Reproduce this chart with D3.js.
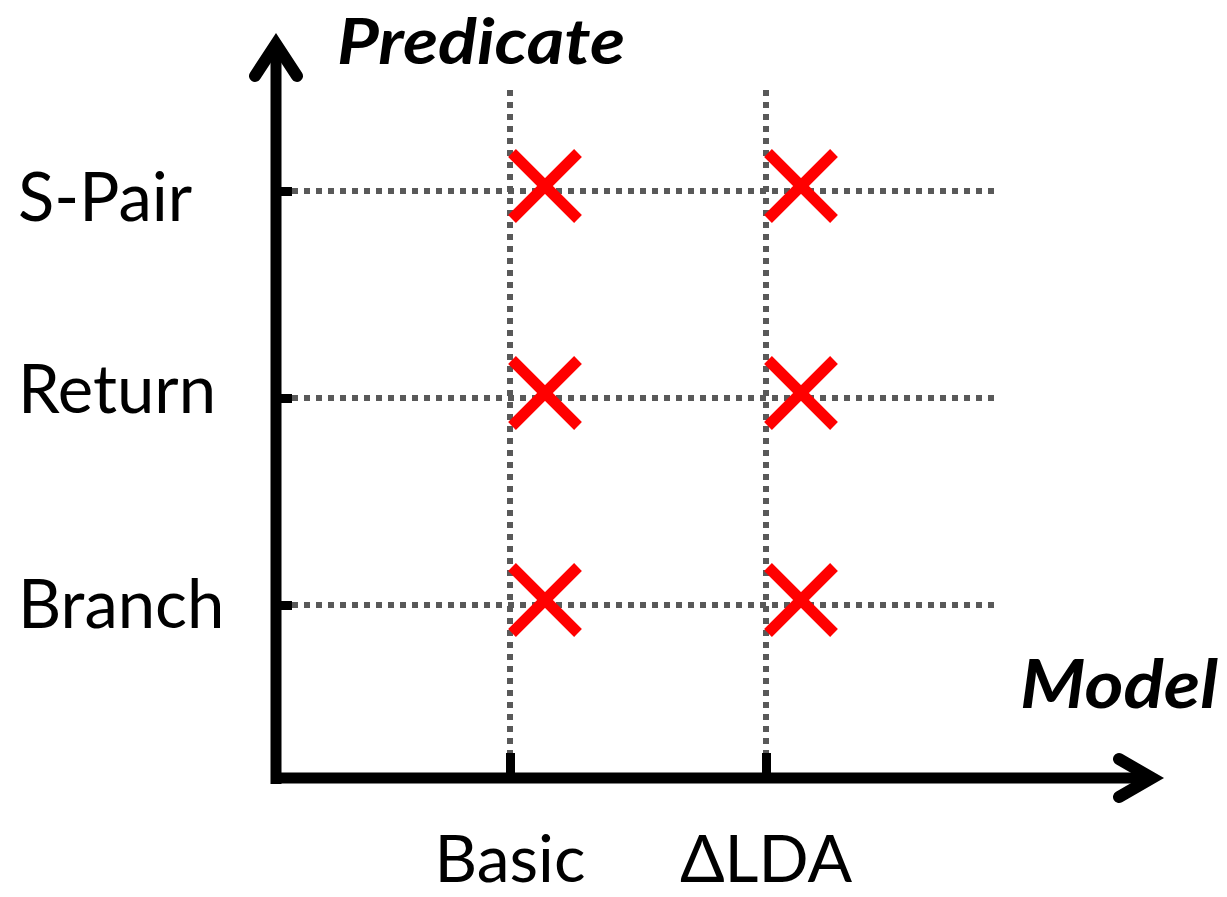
<!DOCTYPE html>
<html>
<head>
<meta charset="utf-8">
<script src="https://cdn.jsdelivr.net/npm/d3@7"></script>
<style>
  html, body { margin: 0; padding: 0; background: #fff; }
  svg { display: block; }
  text { font-family: Lato, "Open Sans", sans-serif; fill: #000; }
</style>
</head>
<body>
<svg id="chart" width="1227" height="897"></svg>
<script>
// ---- data ----
const models = ["Basic", "ΔLDA"];
const predicates = ["Branch", "Return", "S-Pair"];
const xTitle = "Model";
const yTitle = "Predicate";
// each (model, predicate) pair marked with a cross
const marks = [
  { model: "Basic", predicate: "S-Pair" },
  { model: "Basic", predicate: "Return" },
  { model: "Basic", predicate: "Branch" },
  { model: "ΔLDA", predicate: "S-Pair" },
  { model: "ΔLDA", predicate: "Return" },
  { model: "ΔLDA", predicate: "Branch" }
];

// ---- layout ----
const svg = d3.select("#chart");
const axisX = 276;   // x of vertical axis
const axisY = 778;   // y of horizontal axis
const gridColor = "#595959";
const red = "#ff0000";
const labelShift = { "S-Pair": 30, "Return": 15, "Branch": 23 };

const x = d3.scalePoint().domain(models).range([510, 766]);
const y = d3.scalePoint().domain(predicates).range([605, 191]);

// ---- gridlines ----
const grid = svg.append("g");
grid.selectAll("line.h").data(predicates).join("line")
  .attr("x1", 292).attr("x2", 995)
  .attr("y1", d => y(d)).attr("y2", d => y(d))
  .attr("stroke", gridColor).attr("stroke-width", 6)
  .attr("stroke-dasharray", "6 6");
grid.selectAll("line.v").data(models).join("line")
  .attr("x1", d => x(d)).attr("x2", d => x(d))
  .attr("y1", 90).attr("y2", axisY)
  .attr("stroke", gridColor).attr("stroke-width", 6)
  .attr("stroke-dasharray", "6 6");

// ---- axes (ticks via d3 axes) ----
const yAxis = svg.append("g").attr("transform", `translate(${axisX},0)`)
  .call(d3.axisRight(y).tickSize(16).tickFormat(""));
const xAxis = svg.append("g").attr("transform", `translate(0,${axisY})`)
  .call(d3.axisTop(x).tickSize(25).tickFormat(""));
[yAxis, xAxis].forEach(g => {
  g.select(".domain").remove();
  g.selectAll(".tick line").attr("stroke", "#000").attr("stroke-width", 9);
});

// axis lines with arrows
svg.append("line")
  .attr("x1", axisX).attr("y1", axisY + 6).attr("x2", axisX).attr("y2", 44)
  .attr("stroke", "#000").attr("stroke-width", 11);
svg.append("line")
  .attr("x1", axisX - 5).attr("y1", axisY).attr("x2", 1152).attr("y2", axisY)
  .attr("stroke", "#000").attr("stroke-width", 11);
svg.append("path")
  .attr("d", `M${axisX - 21},76 L${axisX},44 L${axisX + 21},76`)
  .attr("fill", "none").attr("stroke", "#000").attr("stroke-width", 12)
  .attr("stroke-linejoin", "miter").attr("stroke-miterlimit", 10)
  .attr("stroke-linecap", "round");
svg.append("path")
  .attr("d", `M1119,${axisY - 19} L1152,${axisY} L1119,${axisY + 19}`)
  .attr("fill", "none").attr("stroke", "#000").attr("stroke-width", 12)
  .attr("stroke-linejoin", "miter").attr("stroke-miterlimit", 10)
  .attr("stroke-linecap", "round");

// ---- tick labels ----
svg.selectAll("text.ylab").data(predicates).join("text")
  .attr("class", "ylab")
  .attr("x", 18).attr("y", d => y(d) + labelShift[d])
  .attr("font-size", 67)
  .text(d => d);
svg.selectAll("text.xlab").data(models).join("text")
  .attr("class", "xlab")
  .attr("x", d => x(d)).attr("y", 882)
  .attr("text-anchor", "middle")
  .attr("font-size", 66)
  .text(d => d);

// ---- titles ----
svg.append("text")
  .attr("x", 337).attr("y", 64)
  .attr("font-size", 64).attr("font-weight", "bold").attr("font-style", "italic")
  .attr("textLength", 288).attr("lengthAdjust", "spacingAndGlyphs")
  .text(yTitle);
svg.append("text")
  .attr("x", 1020).attr("y", 708)
  .attr("font-size", 67).attr("font-weight", "bold").attr("font-style", "italic")
  .attr("textLength", 198).attr("lengthAdjust", "spacingAndGlyphs")
  .text(xTitle);

// ---- crosses ----
const h = 33;
const cross = svg.append("g").selectAll("g").data(marks).join("g")
  .attr("transform", d => `translate(${x(d.model) + 35},${y(d.predicate) - 5})`);
cross.append("line").attr("x1", -h).attr("y1", -h).attr("x2", h).attr("y2", h);
cross.append("line").attr("x1", -h).attr("y1", h).attr("x2", h).attr("y2", -h);
cross.selectAll("line").attr("stroke", red).attr("stroke-width", 11);
</script>
</body>
</html>
